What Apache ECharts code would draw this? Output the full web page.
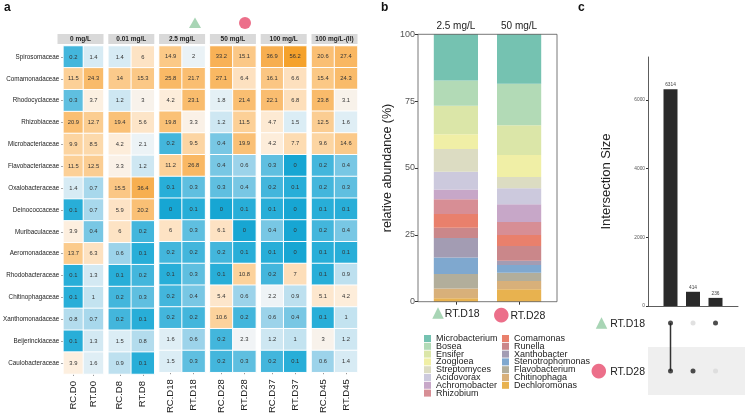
<!DOCTYPE html>
<html><head><meta charset="utf-8">
<script src="https://cdn.jsdelivr.net/npm/echarts@6/dist/echarts.min.js"></script>
<style>html,body{margin:0;padding:0;background:#fff}#c{width:745px;height:416px}</style>
</head><body><div id="c"></div>
<script>
// ---------- Panel a: heatmap data ----------
const families = ['Spirosomaceae','Comamonadaceae','Rhodocyclaceae','Rhizobiaceae','Microbacteriaceae','Flavobacteriaceae','Oxalobacteraceae','Deinococcaceae','Muribaculaceae','Aeromonadaceae','Rhodobacteraceae','Chitinophagaceae','Xanthomonadaceae','Beijerinckiaceae','Caulobacteraceae'];
const concentrations = ['0 mg/L','0.01 mg/L','2.5 mg/L','50 mg/L','100 mg/L','100 mg/L-(II)'];
const samples = ['RC.D0','RT.D0','RC.D8','RT.D8','RC.D18','RT.D18','RC.D28','RT.D28','RC.D37','RT.D37','RC.D45','RT.D45'];
const rcD0  = [0.2, 11.5, 0.3, 20.9, 9.9, 11.5, 1.4, 0.1, 3.9, 13.7, 0.1, 0.1, 0.8, 0.1, 3.9];
const rtD0  = [1.4, 24.3, 3.7, 12.7, 8.5, 12.5, 0.7, 0.7, 0.4, 6.3, 1.3, 1, 0.7, 1.3, 1.6];
const rcD8  = [1.4, 14, 1.2, 19.4, 4.2, 3.3, 15.5, 5.9, 6, 0.6, 0.1, 0.2, 0.2, 1.5, 0.9];
const rtD8  = [6, 15.3, 3, 5.6, 2.1, 1.2, 36.4, 20.2, 0.2, 0.1, 0.2, 0.3, 0.1, 0.8, 0.1];
const rcD18 = [14.9, 25.8, 4.2, 19.8, 0.2, 11.2, 0.1, 0, 6, 0.2, 0.1, 0.2, 0.2, 1.6, 1.5];
const rtD18 = [2, 21.7, 23.1, 3.3, 9.5, 26.8, 0.3, 0.1, 0.3, 0.2, 0.3, 0.4, 0.2, 0.6, 0.3];
const rcD28 = [33.2, 27.1, 1.8, 1.2, 0.4, 0.4, 0.3, 0, 6.1, 0.2, 0.1, 5.4, 10.6, 0.2, 0.2];
const rtD28 = [15.1, 6.4, 21.4, 11.5, 19.9, 0.6, 0.4, 0.1, 0, 0.1, 10.8, 0.6, 0.2, 2.3, 0.3];
const rcD37 = [36.9, 16.1, 22.1, 4.7, 4.2, 0.3, 0.2, 0.1, 0.4, 0.1, 0.2, 2.2, 0.6, 1.2, 0.2];
const rtD37 = [56.2, 6.6, 6.8, 1.5, 7.7, 0, 0.1, 0, 0, 0, 7, 0.9, 0.4, 1, 0.1];
const rcD45 = [20.6, 15.4, 23.8, 12.5, 9.6, 0.2, 0.2, 0.1, 0.2, 0.1, 0.1, 5.1, 0.1, 3, 0.6];
const rtD45 = [27.4, 24.3, 3.1, 1.6, 14.6, 0.4, 0.3, 0.1, 0.4, 0.1, 0.9, 4.2, 1, 1.2, 1.4];
const sampleColumns = [rcD0, rtD0, rcD8, rtD8, rcD18, rtD18, rcD28, rtD28, rcD37, rtD37, rcD45, rtD45];

// ---------- Panel b: stacked relative abundance ----------
const genera = ['Microbacterium','Bosea','Ensifer','Zoogloea','Streptomyces','Acidovorax','Achromobacter','Rhizobium','Comamonas','Runella','Xanthobacter','Stenotrophomonas','Flavobacterium','Chitinophaga','Dechloromonas'];
const abundanceD18 = [17.3, 9.4, 10.7, 5.5, 8.5, 6.6, 3.7, 5.5, 5.1, 3.9, 7.3, 6.1, 5.5, 3.6, 1.3];
const abundanceD28 = [18.5, 15.5, 11.1, 8.3, 4.2, 6.0, 6.6, 4.9, 4.1, 5.5, 1.6, 2.9, 3.1, 3.0, 4.7];
const barSamples = ['RT.D18','RT.D28'];
const barConcentrations = ['2.5 mg/L','50 mg/L'];

// ---------- Panel c: upset ----------
const intersectionSizes = [6314, 414, 236];
const inD18 = [1, 0, 1];
const inD28 = [1, 1, 0];
const setNames = ['RT.D28','RT.D18'];
const sizeTicks = [0, 2000, 4000, 6000];

// ---------- styles ----------
const FONT = 'Liberation Sans, Arial, sans-serif';
const generaColors = ['#75c2b1','#b2dab6','#dbe6a8','#f0efa6','#dcdcc2','#ccc9dd','#c7a7c8','#d78e95','#e9806c','#ca878a','#a39cb3','#7fa8cf','#b2ae9b','#d8b07a','#e8b24f'];
const heatStops = ['#17a6d3','#1eaad6','#32b1da','#5ebfe0','#92cfe8','#bde0ef','#dbedf5','#f3f5f6','#fdefdf','#fde2c2','#fcd4a0','#fbc784','#f9ba68','#f7ac4a','#f59f22'];
const GREEN = '#a8d5b5', PINK = '#ec6f8a';

const grid = [], xAxis = [], yAxis = [], series = [], graphic = [];
const hmTop = 46, hmH = 328, grpW = 46;
for (let g = 0; g < 6; g++) {
  const left = 57.5 + g * 50.8;
  grid.push({left: left, top: hmTop, width: grpW, height: hmH});
  xAxis.push({type:'category', gridIndex:g, data:[samples[2*g], samples[2*g+1]],
    axisLine:{show:false}, axisTick:{show:true, alignWithLabel:true, length:2, lineStyle:{color:'#999'}},
    axisLabel:{interval:0, rotate:90, fontSize:9.5, color:'#222', margin:7, fontFamily:FONT}});
  yAxis.push({type:'category', gridIndex:g, data:families, inverse:true,
    axisLine:{show:false}, axisTick:{show:g===0, length:2, alignWithLabel:true, lineStyle:{color:'#777'}},
    axisLabel:{show:g===0, interval:0, fontSize:6.3, color:'#222', margin:4, fontFamily:FONT}});
  const data = [];
  for (let c = 0; c < 2; c++) {
    const col = sampleColumns[2*g + c];
    for (let r = 0; r < families.length; r++) {
      data.push([c, r, col[r], Math.log10(col[r] + 0.1)]);
    }
  }
  series.push({type:'heatmap', xAxisIndex:g, yAxisIndex:g, data:data,
    itemStyle:{borderColor:'#fff', borderWidth:1},
    label:{show:true, formatter:p => String(p.data[2]), fontSize:5.8, color:'#333', fontFamily:FONT},
    emphasis:{disabled:true}});
  graphic.push({type:'rect', shape:{x:left, y:34, width:grpW, height:10}, style:{fill:'#d9d9d9'}});
  graphic.push({type:'text', x:left + grpW/2, y:39, style:{text:concentrations[g], fill:'#222', font:'bold 6.5px ' + FONT, textAlign:'center', textVerticalAlign:'middle'}});
}
graphic.push({type:'polygon', shape:{points:[[189,28],[201,28],[195,17.5]]}, style:{fill:GREEN}});
graphic.push({type:'circle', shape:{cx:245, cy:23, r:6}, style:{fill:PINK}});

// Panel b  (grid 6, xAxis 6/7, yAxis 6)
const bLeft = 424.3, bW = 126.4, bTop = 34.3, bH = 267.4;
grid.push({left:bLeft, top:bTop, width:bW, height:bH});
xAxis.push({type:'category', gridIndex:6, data:barSamples, position:'bottom',
  axisLine:{show:false}, axisTick:{show:true, alignWithLabel:true, length:3, lineStyle:{color:'#333'}},
  axisLabel:{interval:0, margin:4, fontFamily:FONT, formatter:(v,i) => (i===0 ? '{tri|▲}' : '{cir|●}') + '{t|' + v + '}',
    rich:{tri:{fontSize:15, color:GREEN, fontFamily:'DejaVu Sans'}, cir:{fontSize:19, color:PINK, fontFamily:'DejaVu Sans'}, t:{fontSize:10.5, color:'#222', fontFamily:FONT, padding:[2,0,0,1]}}}});
xAxis.push({type:'category', gridIndex:6, data:barConcentrations, position:'top',
  axisLine:{show:false}, axisTick:{show:false},
  axisLabel:{interval:0, fontSize:10, color:'#222', margin:3, fontFamily:FONT}});
yAxis.push({type:'value', gridIndex:6, min:0, max:100, interval:25, offset:6.3,
  name:'relative abundance (%)', nameLocation:'middle', nameGap:24, nameTextStyle:{fontSize:12.5, color:'#222', fontFamily:FONT},
  axisLine:{show:false}, axisTick:{show:true, length:3, lineStyle:{color:'#333'}}, splitLine:{show:false},
  axisLabel:{fontSize:9, color:'#555', margin:3, fontFamily:FONT}});
for (let i = genera.length - 1; i >= 0; i--) {
  series.push({type:'bar', name:genera[i], xAxisIndex:6, yAxisIndex:6, stack:'ab', barWidth:44.2,
    data:[abundanceD18[i], abundanceD28[i]], itemStyle:{color:generaColors[i]}, emphasis:{disabled:true}});
}
graphic.push({type:'rect', shape:{x:418, y:bTop, width:139, height:bH}, style:{fill:'none', stroke:'#555', lineWidth:0.8}, z:100});

// Panel c bars (grid 7, xAxis 8, yAxis 7)
grid.push({left:648, top:57, width:90, height:249});
xAxis.push({type:'value', gridIndex:7, min:0, max:4, axisLabel:{show:false}, axisTick:{show:false}, splitLine:{show:false},
  axisLine:{show:true, lineStyle:{color:'#333', width:0.8}}});
yAxis.push({type:'value', gridIndex:7, min:0, max:7250, name:'Intersection Size', nameLocation:'middle', nameGap:35,
  nameTextStyle:{fontSize:13, color:'#222', fontFamily:FONT},
  axisLine:{show:true, lineStyle:{color:'#333', width:0.8}}, splitLine:{show:false},
  axisTick:{show:true, length:2, customValues:sizeTicks, lineStyle:{color:'#333'}},
  axisLabel:{fontSize:4.8, color:'#555', margin:3, customValues:sizeTicks, fontFamily:FONT, formatter:v => String(v)}});
series.push({type:'bar', xAxisIndex:8, yAxisIndex:7, barWidth:14,
  data:intersectionSizes.map((v,i) => [i+1, v]), itemStyle:{color:'#2a2a2a'},
  label:{show:true, position:'top', distance:2, fontSize:4.8, color:'#444', fontFamily:FONT, formatter:p => String(p.data[1])},
  emphasis:{disabled:true}});

// Panel c matrix (grid 8, xAxis 9, yAxis 8)
grid.push({left:648, top:299, width:97, height:96});
xAxis.push({type:'value', gridIndex:8, min:0, max:4.31, show:false});
yAxis.push({type:'category', gridIndex:8, data:setNames,
  axisLine:{show:false}, axisTick:{show:false}, splitLine:{show:false},
  splitArea:{show:true, areaStyle:{color:['#efefef','rgba(255,255,255,0)']}},
  axisLabel:{interval:0, margin:3, fontFamily:FONT, formatter:v => (v==='RT.D18' ? '{tri|▲}' : '{cir|●}') + '{t|' + v + '}',
    rich:{tri:{fontSize:15, color:GREEN, fontFamily:'DejaVu Sans'}, cir:{fontSize:19, color:PINK, fontFamily:'DejaVu Sans'}, t:{fontSize:10.5, color:'#222', fontFamily:FONT, padding:[2,0,0,3]}}}});
const activeDots = [], inactiveDots = [];
intersectionSizes.forEach((_, i) => {
  (inD18[i] ? activeDots : inactiveDots).push([i+1, 'RT.D18']);
  (inD28[i] ? activeDots : inactiveDots).push([i+1, 'RT.D28']);
  if (inD18[i] && inD28[i]) {
    series.push({type:'line', xAxisIndex:9, yAxisIndex:8, data:[[i+1,'RT.D18'],[i+1,'RT.D28']], symbol:'none',
      lineStyle:{color:'#333', width:1.5}, silent:true});
  }
});
series.push({type:'scatter', xAxisIndex:9, yAxisIndex:8, data:inactiveDots, symbolSize:5, itemStyle:{color:'#dadada'}, silent:true});
series.push({type:'scatter', xAxisIndex:9, yAxisIndex:8, data:activeDots, symbolSize:5, itemStyle:{color:'#222'}, silent:true, z:5});

// panel letters
graphic.push({type:'text', x:4, y:2, style:{text:'a', font:'bold 12px ' + FONT, fill:'#111'}});
graphic.push({type:'text', x:381, y:2, style:{text:'b', font:'bold 12px ' + FONT, fill:'#111'}});
graphic.push({type:'text', x:578, y:2, style:{text:'c', font:'bold 12px ' + FONT, fill:'#111'}});

const legendCommon = {orient:'vertical', itemWidth:7, itemHeight:7, itemGap:-1.2, icon:'rect', selectedMode:false, height:100,
  textStyle:{fontSize:9, color:'#222', fontFamily:FONT}};
const option = {
  animation:false,
  textStyle:{fontFamily:FONT},
  grid, xAxis, yAxis, series, graphic,
  visualMap:{type:'continuous', show:false, min:-1, max:1.8, dimension:3, seriesIndex:[0,1,2,3,4,5], inRange:{color:heatStops}},
  legend:[
    Object.assign({left:419, top:329, data:genera.slice(0,8)}, legendCommon),
    Object.assign({left:497, top:329, data:genera.slice(8)}, legendCommon)
  ]
};
const chart = echarts.init(document.getElementById('c'), null, {renderer:'canvas'});
chart.setOption(option);
</script></body></html>
